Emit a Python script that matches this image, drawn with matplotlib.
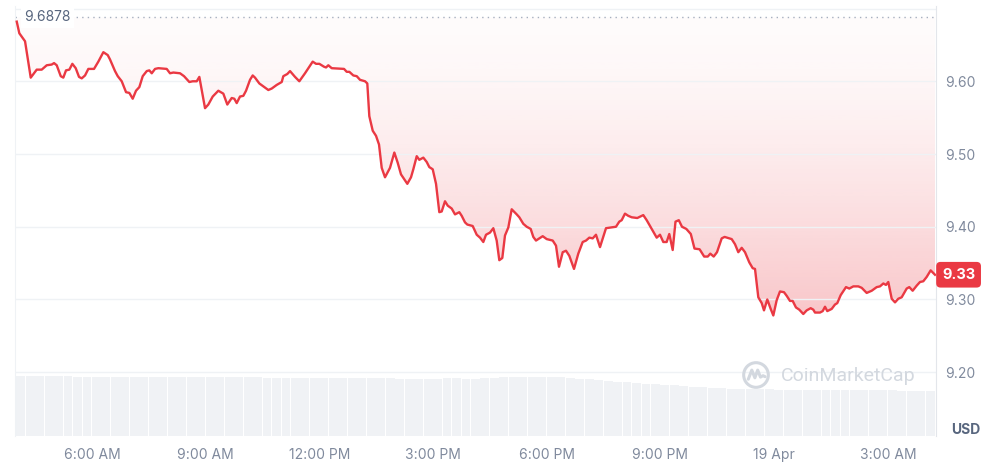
import matplotlib.pyplot as plt
import numpy as np
from matplotlib.patches import Circle

plt.rcParams['font.family'] = ['Inter', 'DejaVu Sans']

# hours after midnight of 18 Apr (values above 24 are on 19 Apr)
hours = [
    4.014, 4.082, 4.233, 4.383, 4.541, 4.673, 4.805, 4.937, 4.998, 5.069,
    5.175, 5.243, 5.314, 5.402, 5.481, 5.570, 5.657, 5.729, 5.816, 5.903,
    6.053, 6.167, 6.299, 6.415, 6.475, 6.607, 6.679, 6.784, 6.898, 6.985,
    7.074, 7.161, 7.249, 7.338, 7.444, 7.512, 7.576, 7.663, 7.750, 7.971,
    8.058, 8.146, 8.322, 8.428, 8.568, 8.657, 8.763, 8.832, 8.982, 9.069,
    9.185, 9.333, 9.465, 9.570, 9.686, 9.755, 9.818, 9.905, 9.993, 10.064,
    10.169, 10.240, 10.301, 10.415, 10.520, 10.652, 10.742, 10.874, 11.006, 11.048,
    11.153, 11.225, 11.357, 11.470, 11.620, 11.708, 11.823, 11.911, 11.998, 12.122,
    12.175, 12.235, 12.325, 12.650, 12.721, 12.790, 12.895, 12.985, 13.072, 13.204,
    13.264, 13.317, 13.407, 13.494, 13.573, 13.644, 13.731, 13.863, 13.977, 14.066,
    14.153, 14.320, 14.417, 14.478, 14.568, 14.636, 14.742, 14.832, 14.900, 14.990,
    15.077, 15.164, 15.227, 15.314, 15.386, 15.491, 15.578, 15.692, 15.755, 15.842,
    15.903, 16.045, 16.151, 16.238, 16.325, 16.396, 16.502, 16.589, 16.678, 16.747,
    16.826, 16.897, 16.985, 17.074, 17.206, 17.275, 17.380, 17.470, 17.575, 17.644,
    17.715, 17.892, 17.998, 18.156, 18.243, 18.322, 18.420, 18.507, 18.594, 18.718,
    18.831, 18.947, 19.035, 19.122, 19.211, 19.298, 19.404, 19.562, 19.686, 19.826,
    19.913, 19.976, 20.063, 20.150, 20.240, 20.388, 20.546, 20.636, 20.768, 20.900,
    20.987, 21.074, 21.163, 21.232, 21.322, 21.396, 21.483, 21.567, 21.681, 21.800,
    21.897, 22.032, 22.153, 22.248, 22.314, 22.404, 22.491, 22.615, 22.692, 22.879,
    22.966, 23.053, 23.143, 23.230, 23.343, 23.433, 23.494, 23.581, 23.671, 23.731,
    23.818, 23.908, 23.977, 24.066, 24.153, 24.259, 24.330, 24.417, 24.488, 24.575,
    24.662, 24.768, 24.857, 24.963, 25.032, 25.077, 25.209, 25.280, 25.341, 25.401,
    25.517, 25.604, 25.665, 25.755, 25.895, 25.982, 26.088, 26.220, 26.309, 26.441,
    26.573, 26.705, 26.792, 26.880, 26.950, 27.011, 27.101, 27.188, 27.275, 27.364,
    27.496, 27.565, 27.654, 27.760, 27.847, 27.934, 28.024, 28.129, 28.243,
]

price = [
    9.682, 9.666, 9.655, 9.605, 9.616, 9.616, 9.622, 9.623, 9.625, 9.622,
    9.607, 9.605, 9.615, 9.616, 9.624, 9.618, 9.606, 9.604, 9.608, 9.617,
    9.617, 9.627, 9.640, 9.636, 9.630, 9.614, 9.607, 9.600, 9.585, 9.584,
    9.576, 9.587, 9.592, 9.607, 9.614, 9.615, 9.611, 9.617, 9.618, 9.617,
    9.611, 9.612, 9.611, 9.607, 9.599, 9.600, 9.600, 9.606, 9.563, 9.568,
    9.579, 9.587, 9.583, 9.568, 9.577, 9.576, 9.570, 9.579, 9.580, 9.587,
    9.602, 9.608, 9.605, 9.597, 9.593, 9.588, 9.590, 9.595, 9.599, 9.607,
    9.610, 9.614, 9.606, 9.600, 9.611, 9.618, 9.627, 9.624, 9.624, 9.620,
    9.619, 9.622, 9.618, 9.617, 9.613, 9.613, 9.608, 9.607, 9.602, 9.600,
    9.597, 9.552, 9.532, 9.525, 9.513, 9.481, 9.468, 9.481, 9.502, 9.488,
    9.472, 9.459, 9.468, 9.479, 9.497, 9.492, 9.495, 9.489, 9.482, 9.479,
    9.459, 9.420, 9.421, 9.435, 9.429, 9.425, 9.417, 9.420, 9.415, 9.406,
    9.403, 9.401, 9.389, 9.385, 9.379, 9.389, 9.392, 9.398, 9.381, 9.354,
    9.357, 9.388, 9.399, 9.424, 9.417, 9.413, 9.404, 9.400, 9.397, 9.386,
    9.381, 9.387, 9.383, 9.381, 9.374, 9.345, 9.365, 9.367, 9.360, 9.342,
    9.363, 9.379, 9.381, 9.385, 9.384, 9.389, 9.372, 9.398, 9.399, 9.400,
    9.407, 9.409, 9.418, 9.415, 9.413, 9.412, 9.416, 9.409, 9.397, 9.385,
    9.389, 9.379, 9.379, 9.390, 9.368, 9.407, 9.409, 9.400, 9.397, 9.390,
    9.370, 9.369, 9.359, 9.359, 9.363, 9.359, 9.365, 9.384, 9.386, 9.383,
    9.376, 9.365, 9.371, 9.365, 9.351, 9.343, 9.342, 9.303, 9.295, 9.285,
    9.300, 9.287, 9.278, 9.299, 9.311, 9.310, 9.305, 9.298, 9.298, 9.289,
    9.286, 9.280, 9.285, 9.288, 9.286, 9.282, 9.282, 9.284, 9.290, 9.284,
    9.287, 9.293, 9.295, 9.306, 9.317, 9.315, 9.318, 9.318, 9.316, 9.309,
    9.312, 9.317, 9.318, 9.322, 9.320, 9.324, 9.301, 9.296, 9.301, 9.303,
    9.315, 9.317, 9.312, 9.319, 9.324, 9.325, 9.331, 9.340, 9.334,
]

open_price = 9.6878

# volume, one bar per 15 minutes from 4:00 AM
vol_start = 4.0
volume = [
    59.8, 59.7, 59.7, 59.6, 59.6, 59.6, 59.5, 59.5, 59.4, 59.4, 59.3, 59.2, 59.0, 59.0, 58.9, 58.8,
    58.8, 58.7, 58.7, 58.6, 58.6, 58.7, 58.8, 58.8, 58.7, 58.6, 58.5, 58.5, 58.4, 58.4, 58.3, 58.3,
    58.2, 58.2, 58.1, 58.0, 58.0, 57.9, 57.8,
    57.6, 57.5, 57.5, 57.4, 57.4, 57.5, 57.6, 57.6, 57.5, 57.5, 57.6, 57.8,
    59.0, 59.2, 59.3, 59.3, 59.2, 59.1, 58.8, 58.2,
    57.4, 56.6, 55.8, 55.0, 54.3, 53.6, 53.0, 52.4, 51.8, 51.2, 50.6, 50.0, 49.4, 48.8, 48.2, 47.6, 47.0,
    46.8, 46.7, 46.6, 46.6, 46.5, 46.4, 46.4, 46.3, 46.2, 46.2, 46.1, 46.0, 46.0, 45.9, 45.8, 45.7,
    45.6, 45.5, 45.4, 45.2, 45.0,
]

tick_hours = [6, 9, 12, 15, 18, 21, 24, 27]
tick_labels = ['6:00 AM', '9:00 AM', '12:00 PM', '3:00 PM', '6:00 PM', '9:00 PM', '19 Apr', '3:00 AM']
price_ticks = [9.20, 9.30, 9.40, 9.50, 9.60]
grid_levels = [9.20, 9.30, 9.40, 9.50, 9.60, 9.70]

red = '#ea3943'
grey = '#808a9d'
dark = '#58667e'

xlim = (3.969, 28.27)
ylim = (9.1123, 9.7035)

fig = plt.figure(figsize=(9.83, 4.65), dpi=100)
rect = [0.0153, 0.0624, 0.9369, 0.9247]

# volume sits behind the price axes
vax = fig.add_axes(rect, zorder=0)
vol_hours = vol_start + 0.25 * np.arange(len(volume))
vax.bar(vol_hours, volume, width=0.235, align='edge', color='#f0f2f5', linewidth=0)
vax.set_xlim(xlim)
vax.set_ylim(0, max(volume) * 7.2)
vax.axis('off')

ax = fig.add_axes(rect, zorder=1)
ax.patch.set_visible(False)

for lvl in grid_levels:
    ax.axhline(lvl, color='#eff2f5', lw=1, zorder=0.5)

# pink gradient between the price line and the opening price
levels = np.linspace(ylim[0], ylim[1], 256)[:, None]
depth = np.clip((open_price - levels) / (open_price - min(price)), 0, 1)
rgba = np.zeros((256, 1, 4))
rgba[..., 0] = 234 / 255
rgba[..., 1] = 57 / 255
rgba[..., 2] = 67 / 255
rgba[..., 3] = 0.02 + 0.27 * depth ** 1.5
im = ax.imshow(rgba, extent=[xlim[0], xlim[1], ylim[0], ylim[1]], origin='lower',
               aspect='auto', zorder=0.2)
fill = ax.fill_between(hours, price, open_price, color='none', linewidth=0)
im.set_clip_path(fill.get_paths()[0], transform=ax.transData)

ax.axhline(open_price, color='#a6afbf', lw=1, ls=(0, (1, 3)), zorder=1.7)
ax.text(0.0098, open_price, f'{open_price:.4f}', transform=ax.get_yaxis_transform(),
        ha='left', va='center', fontsize=10, color=dark, zorder=1.9,
        bbox=dict(boxstyle='square,pad=0.25', fc='white', ec='none'))

ax.plot(hours, price, color=red, lw=1.7, solid_joinstyle='round', zorder=3)

ax.set_xlim(xlim)
ax.set_ylim(ylim)
ax.set_xticks(tick_hours, tick_labels)
ax.yaxis.tick_right()
ax.set_yticks(price_ticks, [f'{p:.2f}' for p in price_ticks])
ax.tick_params(axis='x', length=0, pad=9, labelsize=10, labelcolor=grey)
ax.tick_params(axis='y', length=0, pad=6.5, labelsize=10, labelcolor=grey)
for side in ['top', 'bottom']:
    ax.spines[side].set_visible(False)
ax.spines['left'].set_color('#eff2f5')
ax.spines['right'].set_color('#e3e6eb')

# current price badge
ax.text(1.0 + 6 / 921, price[-1], f'{price[-1]:.2f}', transform=ax.get_yaxis_transform(),
        ha='left', va='center', fontsize=10.5, fontweight='bold', color='white', clip_on=False,
        bbox=dict(boxstyle='round,pad=0.4,rounding_size=0.3', fc=red, ec='none'), zorder=5)

fig.text(966 / 983, 1 - 430 / 465, 'USD', ha='center', va='center',
         fontsize=10, fontweight='bold', color=dark)

# watermark
fig.text(781 / 983, 1 - 376 / 465, 'CoinMarketCap', ha='left', va='center',
         fontsize=14, family='Roboto', color='#d3d8df')
logo = fig.add_axes([742 / 983, 1 - 389 / 465, 28 / 983, 28 / 465], zorder=2)
logo.add_patch(Circle((0, 0), 0.88, fill=False, ec='#d3d8df', lw=2.2))
logo.plot([-0.55, -0.3, -0.08, 0.12, 0.32, 0.5, 0.65],
          [-0.3, 0.35, -0.2, 0.35, -0.15, -0.05, -0.12], color='#d3d8df', lw=2.2,
          solid_joinstyle='round', solid_capstyle='round')
logo.set_xlim(-1, 1)
logo.set_ylim(-1, 1)
logo.axis('off')

fig.savefig('out.png', dpi=100)
